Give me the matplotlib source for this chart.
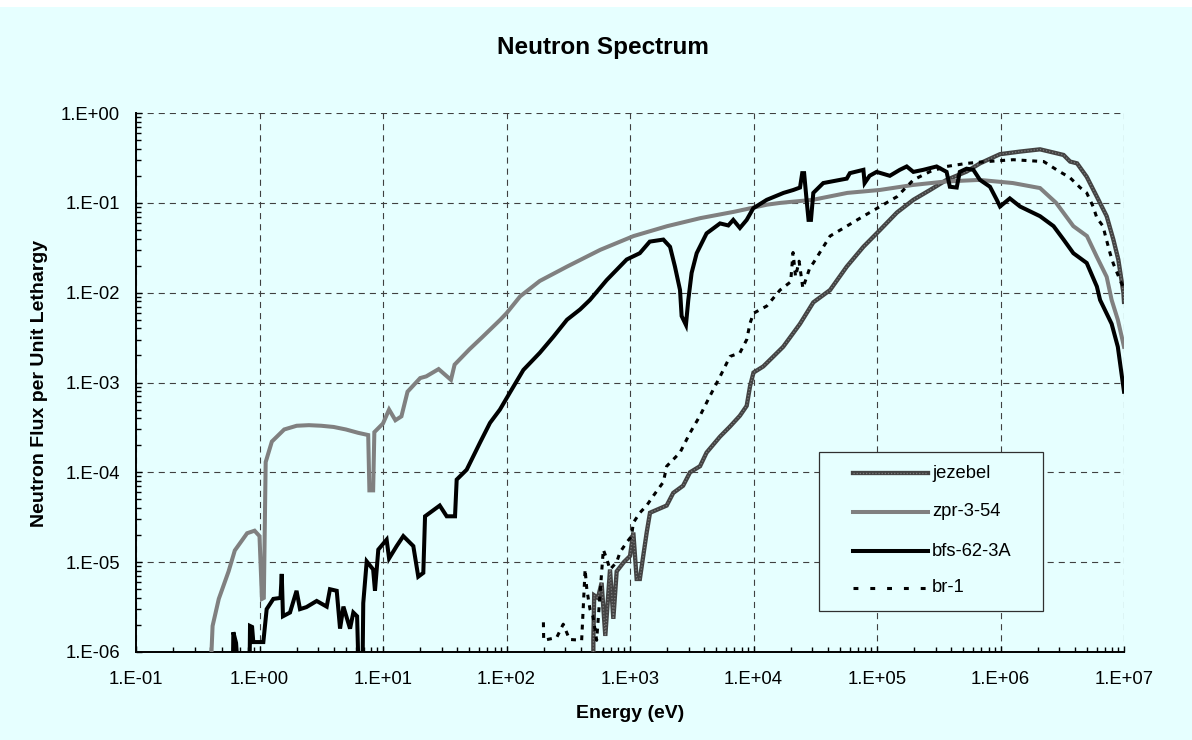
import numpy as np
import matplotlib
matplotlib.use("Agg")
import matplotlib.pyplot as plt
from matplotlib.ticker import FixedLocator, FuncFormatter, NullFormatter
from matplotlib.lines import Line2D
from matplotlib.patches import Rectangle

plt.rcParams['font.family'] = ['Liberation Sans', 'DejaVu Sans']

# ---------------- data ----------------
series_names = ["jezebel", "zpr-3-54", "bfs-62-3A", "br-1"]

jezebel_energy = [505, 505, 513, 550, 589, 631, 689, 733, 780, 891,
                  1000, 1064, 1132, 1202, 1365, 1452, 1982, 2239, 2692, 3062,
                  3690, 4169, 5358, 6457, 7762, 8810, 9376, 1.0e4, 1.2e4, 1.45e4,
                  1.74e4, 2.38e4, 3.05e4, 4.17e4, 5.69e4, 7.76e4, 1.06e5, 1.45e5, 1.97e5, 2.69e5,
                  3.66e5, 5.32e5, 6.82e5, 9.91e5, 1.44e6, 2.09e6, 2.85e6, 3.24e6, 3.66e6, 4.17e6,
                  4.99e6, 6.03e6, 7.24e6, 8.2e6, 8.99e6, 9.89e6, 1.0e7]
jezebel_flux = [7.9e-7, 1.38e-6, 4.27e-6, 4.0e-6, 5.9e-6, 1.51e-6, 8.3e-6, 2.34e-6, 7.9e-6, 1.0e-5,
                1.17e-5, 2.14e-5, 6.5e-6, 6.5e-6, 2.14e-5, 3.55e-5, 4.27e-5, 5.9e-5, 7.1e-5, 1.0e-4,
                1.17e-4, 1.66e-4, 2.5e-4, 3.24e-4, 4.27e-4, 5.5e-4, 9.1e-4, 1.29e-3, 1.51e-3, 1.95e-3,
                2.5e-3, 4.5e-3, 7.8e-3, 1.07e-2, 1.95e-2, 3.24e-2, 5.0e-2, 7.8e-2, 0.108, 0.139,
                0.180, 0.223, 0.275, 0.348, 0.372, 0.394, 0.356, 0.341, 0.288, 0.275,
                0.195, 0.117, 7.1e-2, 3.9e-2, 2.34e-2, 1.0e-2, 7.9e-3]

zpr_energy = [0.407, 0.417, 0.468, 0.562, 0.631, 0.794, 0.912, 1.0, 1.047, 1.084,
              1.122, 1.259, 1.585, 2.0, 2.512, 3.162, 3.98, 5.01, 6.31, 7.59,
              7.76, 8.32, 8.51, 10.0, 11.2, 12.6, 14.1, 15.8, 20.0, 22.4,
              28.2, 35.5, 38.0, 50.1, 63.1, 89.1, 100, 129, 186, 309,
              575, 1070, 2000, 3720, 6920, 1.29e4, 1.66e4, 3.02e4, 5.75e4, 1.05e5,
              1.95e5, 3.63e5, 6.76e5, 1.26e6, 2.09e6, 2.82e6, 3.89e6, 5.01e6, 6.03e6, 7.24e6,
              7.94e6, 8.91e6, 1.0e7]
zpr_flux = [8.9e-7, 1.95e-6, 3.9e-6, 7.9e-6, 1.35e-5, 2.1e-5, 2.24e-5, 1.95e-5, 3.9e-6, 4.0e-6,
            1.3e-4, 2.2e-4, 3.0e-4, 3.3e-4, 3.35e-4, 3.3e-4, 3.2e-4, 3.0e-4, 2.75e-4, 2.6e-4,
            6.3e-5, 6.3e-5, 2.8e-4, 3.5e-4, 5.0e-4, 3.8e-4, 4.2e-4, 7.9e-4, 1.12e-3, 1.17e-3,
            1.41e-3, 1.07e-3, 1.58e-3, 2.34e-3, 3.16e-3, 5.0e-3, 5.9e-3, 9.1e-3, 1.35e-2, 1.95e-2,
            3.0e-2, 4.27e-2, 5.5e-2, 6.76e-2, 7.94e-2, 9.55e-2, 0.100, 0.108, 0.129, 0.139,
            0.158, 0.173, 0.180, 0.166, 0.146, 0.100, 5.5e-2, 4.27e-2, 2.5e-2, 1.5e-2,
            8.3e-3, 5.0e-3, 2.5e-3]

bfs_energy = [0.61, 0.614, 0.646, 0.661, 0.832, 0.838, 0.871, 0.891, 1.074, 1.143,
              1.294, 1.479, 1.514, 1.549, 1.766, 1.995, 2.128, 2.399, 2.904, 3.50,
              3.72, 4.22, 4.49, 4.78, 5.41, 5.75, 6.17, 6.31, 6.84, 6.92,
              7.38, 8.32, 8.61, 9.16, 10.7, 11.2, 12.9, 14.6, 17.6, 19.3,
              21.2, 21.9, 28.8, 32.8, 38.3, 39.5, 47.6, 61.0, 73.5, 88.5,
              107, 137, 186, 240, 309, 394, 474, 647, 940, 1200,
              1445, 1862, 2110, 2312, 2541, 2618, 2838, 2965, 3155, 3467,
              4169, 5358, 6252, 6855, 7762, 8810, 9954, 1.28e4, 1.75e4, 2.1e4,
              2.38e4, 2.48e4, 2.57e4, 2.69e4, 2.79e4, 2.92e4, 3.05e4, 3.67e4, 5.01e4, 5.69e4,
              6.03e4, 7.76e4, 7.94e4, 8.71e4, 9.93e4, 1.27e5, 1.53e5, 1.74e5, 1.97e5, 2.37e5,
              3.04e5, 3.66e5, 3.89e5, 4.42e5, 4.68e5, 5.31e5, 6.03e5, 6.82e5, 8.22e5, 9.33e5,
              9.91e5, 1.19e6, 1.44e6, 2.09e6, 2.69e6, 3.24e6, 3.89e6, 4.99e6, 6.03e6, 6.4e6,
              7.94e6, 8.91e6, 1.0e7]
bfs_flux = [8e-7, 1.66e-6, 1.26e-6, 7.9e-7, 7.9e-7, 1.95e-6, 1.9e-6, 1.29e-6, 1.29e-6, 3.0e-6,
            3.9e-6, 4.0e-6, 7.4e-6, 2.5e-6, 2.75e-6, 4.8e-6, 3.0e-6, 3.16e-6, 3.7e-6, 3.2e-6,
            5.0e-6, 4.8e-6, 1.82e-6, 3.2e-6, 1.82e-6, 2.75e-6, 2.5e-6, 7.9e-7, 7.9e-7, 3.5e-6,
            1.02e-5, 8.3e-6, 4.8e-6, 1.38e-5, 1.78e-5, 1.1e-5, 1.51e-5, 1.95e-5, 1.51e-5, 6.9e-6,
            7.6e-6, 3.24e-5, 4.27e-5, 3.24e-5, 3.24e-5, 8.3e-5, 1.07e-4, 2.14e-4, 3.55e-4, 5.0e-4,
            7.8e-4, 1.38e-3, 2.14e-3, 3.24e-3, 5.0e-3, 6.5e-3, 8.3e-3, 1.38e-2, 2.34e-2, 2.75e-2,
            3.7e-2, 3.9e-2, 3.24e-2, 1.95e-2, 1.07e-2, 5.5e-3, 4.37e-3, 8.3e-3, 1.66e-2, 2.75e-2,
            4.57e-2, 5.9e-2, 5.6e-2, 6.46e-2, 5.25e-2, 6.46e-2, 8.7e-2, 0.108, 0.129, 0.139,
            0.148, 0.214, 0.214, 0.108, 6.46e-2, 6.46e-2, 0.129, 0.166, 0.180, 0.186,
            0.214, 0.233, 0.166, 0.2, 0.221, 0.2, 0.233, 0.254, 0.221, 0.233,
            0.254, 0.221, 0.151, 0.148, 0.221, 0.24, 0.233, 0.180, 0.151, 0.108,
            9.1e-2, 0.112, 9.1e-2, 7.1e-2, 5.5e-2, 3.9e-2, 2.75e-2, 2.14e-2, 1.17e-2, 8.3e-3,
            4.5e-3, 2.5e-3, 7.9e-4]

br1_energy = [199, 200, 255, 288, 324, 406, 433, 447, 474, 501,
              537, 608, 646, 689, 780, 830, 940, 1030, 1064, 1202,
              1365, 1549, 1862, 1982, 2541, 3062, 3690, 4446, 5370, 6457,
              7762, 8810, 9376, 1.0e4, 1.28e4, 1.64e4, 2.0e4, 2.09e4, 2.19e4, 2.34e4,
              2.51e4, 2.86e4, 3.05e4, 4.17e4, 5.69e4, 7.76e4, 1.06e5, 1.45e5, 1.97e5, 2.69e5,
              3.66e5, 5.32e5, 7.73e5, 1.27e6, 2.24e6, 2.85e6, 3.66e6, 4.41e6, 4.99e6, 5.62e6,
              6.03e6, 6.76e6, 7.08e6, 7.71e6, 8.2e6, 9.29e6, 1.0e7]
br1_flux = [2.14e-6, 1.35e-6, 1.45e-6, 2.04e-6, 1.38e-6, 1.35e-6, 8.3e-6, 5.0e-6, 3.0e-6, 2.5e-6,
            1.35e-6, 1.38e-5, 1.1e-5, 8.3e-6, 1.0e-5, 1.29e-5, 1.66e-5, 1.95e-5, 2.75e-5, 3.55e-5,
            4.27e-5, 5.5e-5, 7.8e-5, 1.17e-4, 1.66e-4, 2.75e-4, 4.27e-4, 7.1e-4, 1.17e-3, 1.95e-3,
            2.14e-3, 3.0e-3, 4.57e-3, 5.9e-3, 7.1e-3, 1.07e-2, 1.32e-2, 2.8e-2, 1.51e-2, 2.24e-2,
            1.12e-2, 1.9e-2, 2.14e-2, 4.27e-2, 5.5e-2, 7.1e-2, 9.1e-2, 0.117, 0.180, 0.223,
            0.254, 0.275, 0.288, 0.302, 0.288, 0.233, 0.19, 0.148, 0.129, 9.1e-2,
            6.8e-2, 5.5e-2, 4.27e-2, 2.75e-2, 2.1e-2, 1.38e-2, 1.12e-2]

x_decades = [-1, 0, 1, 2, 3, 4, 5, 6, 7]       # tick exponents, 1.E-01 .. 1.E+07
y_decades = [-6, -5, -4, -3, -2, -1, 0]        # tick exponents, 1.E-06 .. 1.E+00

# ---------------- layout / style ----------------
W, H, DPI = 1192, 740, 100
BG = '#E6FFFF'
AX_L, AX_R, AX_T, AX_B = 136, 1124, 113, 652   # pixel frame of plot area

fig = plt.figure(figsize=(W / DPI, H / DPI), dpi=DPI, facecolor=BG)
fig.patches.append(Rectangle((0, 1 - 7 / H), 1, 7 / H, transform=fig.transFigure,
                             facecolor='white', edgecolor='none', zorder=0))
ax = fig.add_axes([AX_L / W, (H - AX_B) / H, (AX_R - AX_L) / W, (AX_B - AX_T) / H])
ax.set_facecolor(BG)

styles = {
    "jezebel": dict(color='#434343', lw=3.1, ls='-'),
    "zpr-3-54": dict(color='#808080', lw=2.9, ls='-'),
    "bfs-62-3A": dict(color='#000000', lw=2.9, ls='-'),
    "br-1": dict(color='#000000', lw=2.2, ls=(0, (1.6, 1.9))),
}
data = {
    "jezebel": (jezebel_energy, jezebel_flux),
    "zpr-3-54": (zpr_energy, zpr_flux),
    "bfs-62-3A": (bfs_energy, bfs_flux),
    "br-1": (br1_energy, br1_flux),
}
for i, name in enumerate(series_names):
    e, f = data[name]
    st = styles[name]
    ax.plot(e, f, color=st['color'], lw=st['lw'], ls=st['ls'],
            solid_joinstyle='miter', zorder=3 + 2 * i)
    if name == "jezebel":   # fine lighter texture on the dark line
        ax.plot(e, f, color='#7c7c7c', lw=0.9, ls=(0, (1, 1.5)), zorder=4 + 2 * i)

ax.set_xscale('log')
ax.set_yscale('log')
ax.set_xlim(10.0 ** x_decades[0], 10.0 ** x_decades[-1])
ax.set_ylim(10.0 ** y_decades[0], 10.0 ** y_decades[-1])

fmt = FuncFormatter(lambda v, p: "1.E{:+03d}".format(int(round(np.log10(v)))))


def minor_list(decs):
    return [m * 10.0 ** d for d in decs[:-1] for m in range(2, 10)]


ax.xaxis.set_major_locator(FixedLocator([10.0 ** d for d in x_decades]))
ax.yaxis.set_major_locator(FixedLocator([10.0 ** d for d in y_decades]))
ax.xaxis.set_minor_locator(FixedLocator(minor_list(x_decades)))
ax.yaxis.set_minor_locator(FixedLocator(minor_list(y_decades)))
for axis in (ax.xaxis, ax.yaxis):
    axis.set_major_formatter(fmt)
    axis.set_minor_formatter(NullFormatter())

ax.tick_params(which='both', direction='in', color='black', width=1.0, labelsize=13.3)
ax.tick_params(which='major', length=4)
ax.tick_params(which='minor', length=3.5)
ax.tick_params(axis='x', which='major', pad=14)
ax.tick_params(axis='y', which='major', pad=11.5)

ax.grid(True, which='major', color='#404040', lw=0.8, ls=(0, (5.5, 4.5)))
ax.set_axisbelow(True)
for s in ('top', 'right'):
    ax.spines[s].set_visible(False)
for s in ('left', 'bottom'):
    ax.spines[s].set_linewidth(1.4)
    ax.spines[s].set_color('black')

# titles / labels
fig.text(603 / W, 1 - 54 / H, "Neutron Spectrum", ha='center', va='baseline',
         fontsize=17.5, fontweight='bold')
fig.text(630 / W, 1 - 718 / H, "Energy (eV)", ha='center', va='baseline',
         fontsize=14, fontweight='bold')
fig.text(40 / W, 1 - 383 / H, "Neutron Flux per Unit Lethargy", ha='center', va='center',
         rotation=90, fontsize=14, fontweight='bold')


# legend (boxed, drawn in axes coordinates)
def ax_x(px):
    return (px - AX_L) / (AX_R - AX_L)


def ax_y(py):
    return (AX_B - py) / (AX_B - AX_T)


box_l, box_r, box_t, box_b = 819, 1043, 452, 611
ax.add_patch(Rectangle((ax_x(box_l), ax_y(box_b)), ax_x(box_r) - ax_x(box_l),
                       ax_y(box_t) - ax_y(box_b), transform=ax.transAxes,
                       facecolor=BG, edgecolor='#303030', lw=0.9, zorder=20, clip_on=False))
entry_y = [473, 512, 551, 588]
legend_ls = {"br-1": (0, (1.6, 3.9))}
for name, py in zip(series_names, entry_y):
    st = styles[name]
    ax.add_line(Line2D([ax_x(853), ax_x(928)], [ax_y(py), ax_y(py)], transform=ax.transAxes,
                       color=st['color'], lw=st['lw'], ls=legend_ls.get(name, st['ls']),
                       zorder=21, clip_on=False))
    if name == "jezebel":
        ax.add_line(Line2D([ax_x(853), ax_x(928)], [ax_y(py), ax_y(py)], transform=ax.transAxes,
                           color='#7c7c7c', lw=0.9, ls=(0, (1, 1.5)), zorder=22, clip_on=False))
    ax.text(ax_x(932), ax_y(py), name, transform=ax.transAxes, ha='left', va='center',
            fontsize=13.2, zorder=22)

fig.savefig("out.png", dpi=DPI, facecolor=BG)
